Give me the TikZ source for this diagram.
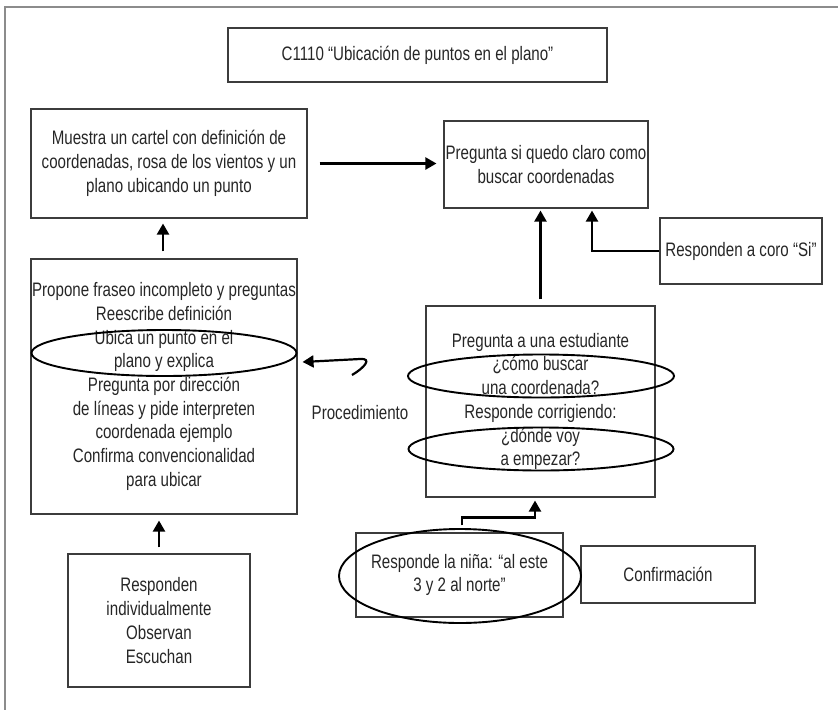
\documentclass[tikz,border=0pt]{standalone}
\usepackage{fontspec}
\setmainfont{Liberation Sans}[FakeStretch=0.775]
\usetikzlibrary{shapes.geometric,arrows.meta,calc}
\definecolor{boxline}{HTML}{3C3C3C}
\definecolor{txt}{HTML}{262626}
\definecolor{framegray}{HTML}{8C8C8C}
\begin{document}
\begin{tikzpicture}[x=1pt,y=-1pt,
  box/.style={draw=boxline,line width=1.1pt,inner sep=0pt,align=center,text=txt,font=\fontsize{19.5}{23.7}\selectfont},
  oval/.style={draw=black,line width=1.9pt,ellipse,inner sep=0pt},
  arr/.style={draw=black,line width=2.2pt,-{Triangle[length=11pt,width=12pt]}},
  lbl/.style={text=txt,font=\fontsize{19.5}{23.7}\selectfont,inner sep=0pt}]
\useasboundingbox (0,0) rectangle (838,710);
\draw[framegray,line width=1.4pt] (838,7) -- (5,7) -- (5,710);

\node[box,minimum width=379pt,minimum height=54pt] (title) at (417.5,55) {C1110 “Ubicación de puntos en el plano”};

\node[box,minimum width=276pt,minimum height=109pt] (muestra) at (169,163.5)
  {Muestra un cartel con definición de\\coordenadas, rosa de los vientos y un\\plano ubicando un punto};

\node[box,minimum width=204pt,minimum height=87pt] (pregunta) at (546,164.5)
  {Pregunta si quedo claro como\\buscar coordenadas};

\node[box,minimum width=162pt,minimum height=66pt] (coro) at (741,251)
  {Responden a coro “Si”};

\node[box,minimum width=266pt,minimum height=255pt] (propone) at (164,386.5)
  {Propone fraseo incompleto y preguntas\\Reescribe definición\\Ubica un punto en el\\plano y explica\\Pregunta por dirección\\de líneas y pide interpreten\\coordenada ejemplo\\Confirma convencionalidad\\para ubicar};

\node[box,minimum width=229pt,minimum height=191pt] (est) at (540.5,401.5)
  {Pregunta a una estudiante\\¿cómo buscar\\una coordenada?\\Responde corrigiendo:\\¿dónde voy\\a empezar?};

\node[box,minimum width=207pt,minimum height=84pt] (nina) at (459.5,575)
  {Responde la niña: “al este\\3 y 2 al norte”};

\node[box,minimum width=174pt,minimum height=57pt] (confirm) at (668,574.5)
  {Confirmación};

\node[box,minimum width=182pt,minimum height=133pt] (resp) at (159,620.5)
  {Responden\\individualmente\\Observan\\Escuchan};

\node[lbl] (proc) at (360,413) {Procedimiento};

% ellipses
\node[oval,minimum width=265pt,minimum height=46pt] (e1) at (164,353) {};
\node[oval,minimum width=266pt,minimum height=43pt] (e2) at (541,376) {};
\node[oval,minimum width=265pt,minimum height=43pt] (e3) at (541,449) {};
\node[oval,minimum width=242pt,minimum height=94pt] (e4) at (460,576) {};

% connectors
\draw[arr,shorten <=12pt,shorten >=7pt] (muestra.east) -- (muestra.east -| pregunta.west);
\draw[arr,shorten <=7pt,shorten >=5pt] ($(propone.north)+(-1,0)$) -- ($(propone.north |- muestra.south)+(-1,0)$);
\draw[arr,shorten <=6pt,shorten >=6pt] (resp.north) -- (resp.north |- propone.south);
\draw[arr,shorten <=6pt,shorten >=2pt] (est.north) -- (est.north |- pregunta.south);
\draw[arr,shorten >=2pt] (coro.west) -| ($(pregunta.south)+(46,0)$);
\coordinate (nstart) at ($(nina.north)+(2.5,-7)$);
\draw[arr,shorten >=3pt] (nstart) -- ++(0,-8) -| ($(est.south)+(-5.5,0)$);
\coordinate (ps) at (352,375);
\draw[arr] (ps) .. controls (364,368) and (373,358) .. (360,359) -- ($(propone.east)+(5,-24.5)$);
\end{tikzpicture}
\end{document}
